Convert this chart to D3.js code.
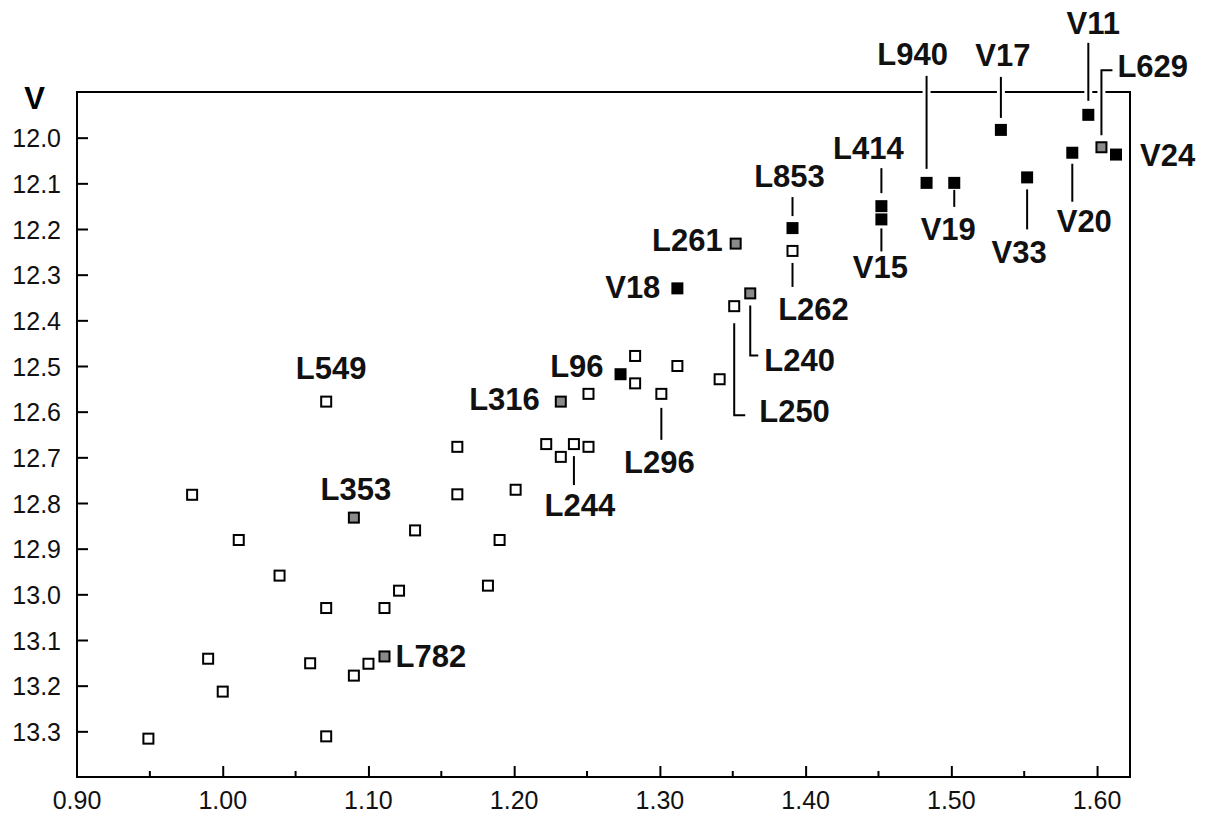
<!DOCTYPE html>
<html>
<head>
<meta charset="utf-8">
<script src="https://cdn.jsdelivr.net/npm/d3@7"></script>
<style>
  html, body { margin: 0; padding: 0; background: #fff; }
  svg { display: block; }
  text { font-family: "Liberation Sans", Arial, Helvetica, sans-serif; }
</style>
</head>
<body>
<svg id="chart" width="1205" height="814"></svg>
<script>
// ---- data ----
const starNames = [
  "", "", "", "", "", "", "", "", "", "", "", "",
  "L549", "", "", "", "", "", "", "", "", "",
  "L244", "", "", "", "", "", "L296", "", "L250", "L262",
  "L353", "L782", "L316", "L261", "L240", "L629",
  "L96", "V18", "L853", "L414", "V15", "L940", "V19", "V17", "V33", "V20", "V11", "V24"
];
const colorBV = [
  0.949, 0.979, 1.011, 1.039, 1.071, 0.990, 1.000, 1.060, 1.071, 1.090, 1.100, 1.111,
  1.071, 1.161, 1.161, 1.132, 1.121, 1.182, 1.190, 1.201, 1.222, 1.232,
  1.241, 1.251, 1.251, 1.283, 1.283, 1.312, 1.301, 1.341, 1.351, 1.391,
  1.090, 1.111, 1.232, 1.352, 1.362, 1.603,
  1.273, 1.312, 1.391, 1.452, 1.452, 1.483, 1.502, 1.534, 1.552, 1.583, 1.594, 1.613
];
const magV = [
  13.316, 12.782, 12.881, 12.959, 13.030, 13.141, 13.213, 13.151, 13.311, 13.178, 13.152, 13.030,
  12.578, 12.677, 12.781, 12.860, 12.992, 12.981, 12.881, 12.771, 12.671, 12.699,
  12.671, 12.677, 12.561, 12.478, 12.538, 12.500, 12.561, 12.529, 12.369, 12.248,
  12.832, 13.136, 12.578, 12.232, 12.341, 12.021,
  12.518, 12.330, 12.198, 12.150, 12.179, 12.099, 12.099, 11.983, 12.087, 12.033, 11.950, 12.037
];
const starType = [
  "open", "open", "open", "open", "open", "open", "open", "open", "open", "open", "open", "open",
  "open", "open", "open", "open", "open", "open", "open", "open", "open", "open",
  "open", "open", "open", "open", "open", "open", "open", "open", "open", "open",
  "gray", "gray", "gray", "gray", "gray", "gray",
  "black", "black", "black", "black", "black", "black", "black", "black", "black", "black", "black", "black"
];
const xTickValues = [0.90, 1.00, 1.10, 1.20, 1.30, 1.40, 1.50, 1.60];
const xMinorTicks = [0.95, 1.05, 1.15, 1.25, 1.35, 1.45, 1.55];
const yTickValues = [12.0, 12.1, 12.2, 12.3, 12.4, 12.5, 12.6, 12.7, 12.8, 12.9, 13.0, 13.1, 13.2, 13.3];
const yTitle = "V";

// ---- label layout (pixel offsets from the marker centre) ----
const labelLayout = {
  "L940": { dx: -14, dy: -118, anchor: "middle", leader: [[0, -107], [0, -14]] },
  "V17":  { dx: 2, dy: -64, anchor: "middle", leader: [[0, -53], [0, -12]] },
  "V11":  { dx: 5, dy: -81, anchor: "middle", leader: [[0, -72], [0, -14]] },
  "L629": { dx: 16, dy: -70, anchor: "start", leader: [[0, -12], [0, -77], [11, -77]] },
  "V24":  { dx: 24, dy: 11, anchor: "start" },
  "V20":  { dx: 12, dy: 79, anchor: "middle", leader: [[0, 11], [0, 49]] },
  "V33":  { dx: -8, dy: 86, anchor: "middle", leader: [[0, 12], [0, 52]] },
  "V19":  { dx: -6, dy: 57, anchor: "middle", leader: [[0, 7], [0, 24]] },
  "L414": { dx: -13, dy: -47, anchor: "middle", leader: [[0, -38], [0, -13]] },
  "V15":  { dx: -1, dy: 59, anchor: "middle", leader: [[0, 9], [0, 32]] },
  "L853": { dx: -3, dy: -41, anchor: "middle", leader: [[0, -31], [0, -12]] },
  "L262": { dx: 21, dy: 69, anchor: "middle", leader: [[0, 12], [0, 36]] },
  "L261": { dx: -13, dy: 7, anchor: "end" },
  "V18":  { dx: -17, dy: 10, anchor: "end" },
  "L240": { dx: 14, dy: 78, anchor: "start", leader: [[0, 12], [0, 62], [8, 62]] },
  "L250": { dx: 25, dy: 116, anchor: "start", leader: [[0, 17], [0, 109], [11, 109]] },
  "L96":  { dx: -17, dy: 3, anchor: "end" },
  "L316": { dx: -21, dy: 8, anchor: "end" },
  "L296": { dx: -2, dy: 79, anchor: "middle", leader: [[0, 14], [0, 46]] },
  "L244": { dx: 6, dy: 72, anchor: "middle", leader: [[0, 12], [0, 41]] },
  "L549": { dx: 5, dy: -23, anchor: "middle" },
  "L353": { dx: 2, dy: -18, anchor: "middle" },
  "L782": { dx: 11, dy: 11, anchor: "start" }
};

const fills = { open: "#ffffff", gray: "#8a8a8a", black: "#000000" };

// ---- chart ----
const svg = d3.select("#chart");
const plotLeft = 77, plotRight = 1130, plotTop = 92, plotBottom = 777;

const x = d3.scaleLinear().domain([0.9, 1.6226]).range([plotLeft, plotRight]);
const y = d3.scaleLinear().domain([11.9, 13.4]).range([plotTop, plotBottom]);

// frame
svg.append("rect")
  .attr("x", plotLeft).attr("y", plotTop)
  .attr("width", plotRight - plotLeft).attr("height", plotBottom - plotTop)
  .attr("fill", "none").attr("stroke", "#000").attr("stroke-width", 2);

// x axis (inward ticks)
const xAxis = svg.append("g").attr("transform", `translate(0,${plotBottom})`)
  .call(d3.axisBottom(x).tickValues(xTickValues.filter(v => v > 0.9))
    .tickSizeInner(-11).tickSizeOuter(0).tickFormat(d3.format(".2f")));
xAxis.select(".domain").remove();
xAxis.selectAll(".tick line").attr("stroke-width", 2);
xAxis.selectAll(".tick text").remove();
xAxis.selectAll(".minor").data(xMinorTicks).enter().append("line")
  .attr("x1", d => x(d)).attr("x2", d => x(d))
  .attr("y1", 0).attr("y2", -6)
  .attr("stroke", "#000").attr("stroke-width", 2);
xAxis.selectAll(".xlab").data(xTickValues).enter().append("text")
  .attr("x", d => x(d)).attr("y", 32)
  .attr("text-anchor", "middle")
  .attr("font-size", 25).attr("fill", "#111")
  .text(d => d3.format(".2f")(d));

// y axis (inward ticks)
const yAxis = svg.append("g").attr("transform", `translate(${plotLeft},0)`)
  .call(d3.axisLeft(y).tickValues(yTickValues)
    .tickSizeInner(-11).tickSizeOuter(0).tickFormat(d3.format(".1f")));
yAxis.select(".domain").remove();
yAxis.selectAll(".tick line").attr("stroke-width", 2);
yAxis.selectAll(".tick text")
  .attr("x", -16).attr("dy", "0.36em")
  .attr("font-size", 25).attr("fill", "#111")
  .attr("font-family", "'Liberation Sans', Arial, sans-serif");

// y title
svg.append("text")
  .attr("x", 34.5).attr("y", 109)
  .attr("text-anchor", "middle")
  .attr("font-size", 31).attr("font-weight", "bold")
  .text(yTitle);

const stars = starNames.map((n, i) => ({ name: n, bv: colorBV[i], v: magV[i], type: starType[i] }));

// leaders (white halo then black line)
const line = d3.line();
const labelled = stars.filter(d => d.name && labelLayout[d.name]);
const leaderG = svg.append("g");
labelled.filter(d => labelLayout[d.name].leader).forEach(d => {
  const pts = labelLayout[d.name].leader.map(p => [x(d.bv) + p[0], y(d.v) + p[1]]);
  leaderG.append("path").attr("d", line(pts)).attr("fill", "none")
    .attr("stroke", "#fff").attr("stroke-width", 8);
  leaderG.append("path").attr("d", line(pts)).attr("fill", "none")
    .attr("stroke", "#000").attr("stroke-width", 2);
});

// markers
svg.append("g").selectAll("rect").data(stars).enter().append("rect")
  .attr("x", d => x(d.bv) - 5).attr("y", d => y(d.v) - 5)
  .attr("width", 10).attr("height", 10)
  .attr("fill", d => fills[d.type])
  .attr("stroke", "#000").attr("stroke-width", 2);

// labels
svg.append("g").selectAll("text").data(labelled).enter().append("text")
  .attr("x", d => x(d.bv) + labelLayout[d.name].dx)
  .attr("y", d => y(d.v) + labelLayout[d.name].dy)
  .attr("text-anchor", d => labelLayout[d.name].anchor)
  .attr("font-size", 31).attr("font-weight", "bold").attr("fill", "#111")
  .text(d => d.name);
</script>
</body>
</html>
